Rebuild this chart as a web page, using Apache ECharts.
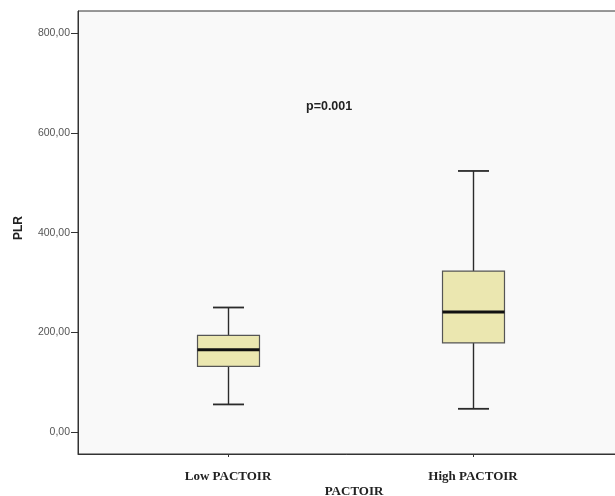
<!DOCTYPE html>
<html>
<head>
<meta charset="utf-8">
<script src="https://cdn.jsdelivr.net/npm/echarts@6/dist/echarts.min.js"></script>
<style>html,body{margin:0;padding:0;background:#fff}#c{width:615px;height:496px}</style>
</head>
<body>
<div id="c"></div>
<script>
const categories = ['Low PACTOIR', 'High PACTOIR'];
const lowWhisker = [55.5, 46.7];
const q1 = [132, 179];
const median = [165, 241];
const q3 = [194, 323];
const highWhisker = [250, 524];
const yTicks = [0, 200, 400, 600, 800];

const Y_MIN = -44, Y_MAX = 845;
const chart = echarts.init(document.getElementById('c'), null, {renderer: 'canvas'});

const boxData = categories.map((c, i) => [i, lowWhisker[i], q1[i], median[i], q3[i], highWhisker[i]]);

function renderBox(params, api) {
  const idx = api.value(0);
  const lw = api.coord([idx, api.value(1)]);
  const p1 = api.coord([idx, api.value(2)]);
  const pm = api.coord([idx, api.value(3)]);
  const p3 = api.coord([idx, api.value(4)]);
  const hw = api.coord([idx, api.value(5)]);
  const band = api.size([1, 0])[0];
  const bw = band * 0.253;
  const cw = bw / 2;
  const x = Math.round(lw[0]) + 0.5;
  const stroke = {stroke: '#2b2b2b', lineWidth: 1.4};
  return {
    type: 'group',
    children: [
      {type: 'line', shape: {x1: x, y1: hw[1], x2: x, y2: p3[1]}, style: stroke},
      {type: 'line', shape: {x1: x, y1: p1[1], x2: x, y2: lw[1]}, style: stroke},
      {type: 'line', shape: {x1: x - cw / 2, y1: hw[1], x2: x + cw / 2, y2: hw[1]}, style: {stroke: '#2b2b2b', lineWidth: 1.8}},
      {type: 'line', shape: {x1: x - cw / 2, y1: lw[1], x2: x + cw / 2, y2: lw[1]}, style: {stroke: '#2b2b2b', lineWidth: 1.8}},
      {type: 'rect', shape: {x: x - bw / 2, y: p3[1], width: bw, height: p1[1] - p3[1]},
        style: {fill: '#ebe7b0', stroke: '#555', lineWidth: 1.2}},
      {type: 'line', shape: {x1: x - bw / 2, y1: pm[1], x2: x + bw / 2, y2: pm[1]}, style: {stroke: '#111', lineWidth: 3}}
    ]
  };
}

chart.setOption({
  backgroundColor: '#ffffff',
  animation: false,
  grid: [
    {left: 78, top: 11, width: 552, bottom: 42, show: true, backgroundColor: '#f9f9f9', borderColor: '#333', borderWidth: 1,
      outerBoundsMode: 'none', containLabel: false},
    {left: 105.5, top: 11, width: 490, bottom: 42, outerBoundsMode: 'none', containLabel: false}
  ],
  xAxis: [
    {gridIndex: 0, type: 'value', min: 0, max: 1, axisLabel: {show: false}, axisTick: {show: false}, splitLine: {show: false},
      axisLine: {show: true, onZero: false, lineStyle: {color: '#333', width: 1}},
      name: 'PACTOIR', nameLocation: 'middle', nameGap: 31,
      nameTextStyle: {fontFamily: 'Liberation Serif', fontWeight: 'bold', fontSize: 13, color: '#222'}},
    {gridIndex: 1, type: 'category', data: categories, boundaryGap: true,
      axisLine: {show: false, onZero: false},
      axisTick: {show: true, alignWithLabel: true, length: 3, lineStyle: {color: '#333'}},
      axisLabel: {margin: 16, fontFamily: 'Liberation Serif', fontWeight: 'bold', fontSize: 13, color: '#222'},
      splitLine: {show: false}}
  ],
  yAxis: [
    {gridIndex: 0, type: 'value', min: Y_MIN, max: Y_MAX,
      axisLine: {show: true, onZero: false, lineStyle: {color: '#333', width: 1}},
      axisTick: {show: true, length: 7, inside: false, customValues: yTicks, lineStyle: {color: '#333'}},
      axisLabel: {margin: 8, customValues: yTicks, fontFamily: 'Liberation Sans', fontSize: 10.5, color: '#555',
        formatter: v => v.toFixed(2).replace('.', ',')},
      splitLine: {show: false}},
    {gridIndex: 1, type: 'value', min: Y_MIN, max: Y_MAX, show: false}
  ],
  graphic: [
    {type: 'text', left: 306, top: 100, style: {text: 'p=0.001', font: 'bold 12.5px "Liberation Sans", Arial', fill: '#222'}},
    {type: 'text', x: 19, y: 228, rotation: Math.PI / 2, style: {text: 'PLR', font: 'bold 12px "Liberation Sans", Arial', fill: '#222', align: 'center', verticalAlign: 'middle'}}
  ],
  series: [
    {type: 'custom', xAxisIndex: 1, yAxisIndex: 1, data: boxData, renderItem: renderBox,
      encode: {x: 0, y: [1, 2, 3, 4, 5]}, clip: false}
  ]
});
</script>
</body>
</html>
